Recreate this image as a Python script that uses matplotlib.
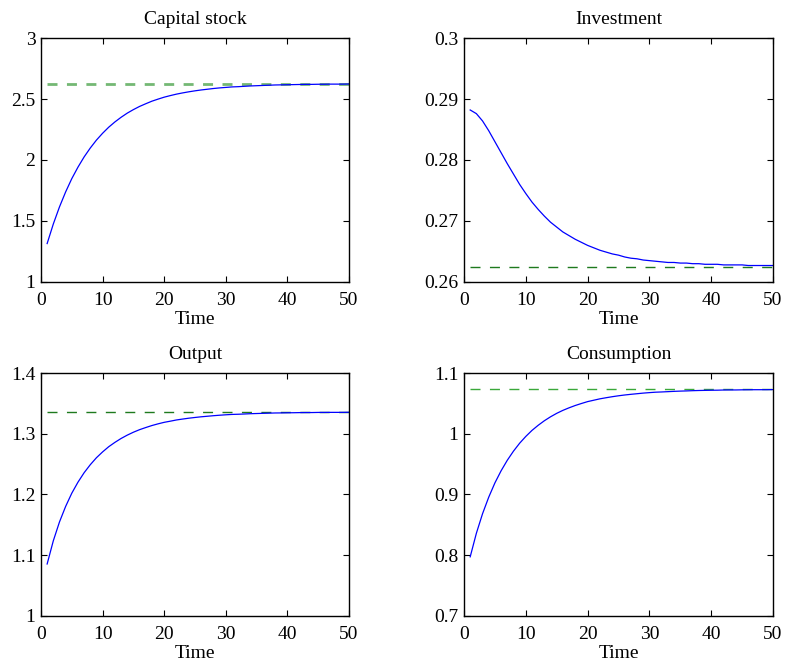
import matplotlib
matplotlib.use("Agg")
import matplotlib.pyplot as plt

plt.rcParams['font.family'] = ['Liberation Serif', 'DejaVu Serif']
plt.rcParams['lines.scale_dashes'] = False

time = list(range(1, 51))

capital = [1.315, 1.475, 1.615, 1.738, 1.847, 1.941, 2.025, 2.098, 2.163, 2.219,
           2.269, 2.312, 2.350, 2.384, 2.413, 2.439, 2.461, 2.482, 2.499, 2.515,
           2.528, 2.540, 2.550, 2.559, 2.567, 2.574, 2.580, 2.586, 2.591, 2.595,
           2.599, 2.601, 2.604, 2.607, 2.609, 2.611, 2.613, 2.615, 2.616, 2.617,
           2.618, 2.619, 2.620, 2.620, 2.621, 2.621, 2.622, 2.622, 2.622, 2.623]
investment = [0.2882, 0.2876, 0.2864, 0.2848, 0.2830, 0.2812, 0.2794, 0.2777, 0.2760, 0.2745,
              0.2731, 0.2719, 0.2708, 0.2698, 0.2690, 0.2682, 0.2676, 0.2670, 0.2665, 0.2660,
              0.2656, 0.2652, 0.2649, 0.2646, 0.2644, 0.2641, 0.2639, 0.2638, 0.2636, 0.2635,
              0.2634, 0.2633, 0.2632, 0.2632, 0.2631, 0.2631, 0.2630, 0.2630, 0.2629, 0.2629,
              0.2629, 0.2628, 0.2628, 0.2628, 0.2628, 0.2627, 0.2627, 0.2627, 0.2627, 0.2627]
output = [1.0856, 1.1237, 1.1547, 1.1803, 1.2021, 1.2202, 1.2358, 1.2490, 1.2605, 1.2701,
          1.2787, 1.2858, 1.2922, 1.2977, 1.3025, 1.3067, 1.3102, 1.3135, 1.3163, 1.3188,
          1.3207, 1.3227, 1.3242, 1.3256, 1.3268, 1.3279, 1.3288, 1.3297, 1.3305, 1.3312,
          1.3318, 1.3321, 1.3325, 1.3330, 1.3333, 1.3336, 1.3339, 1.3342, 1.3343, 1.3345,
          1.3346, 1.3348, 1.3349, 1.3349, 1.3351, 1.3351, 1.3352, 1.3352, 1.3352, 1.3354]
consumption = [0.7974, 0.8362, 0.8684, 0.8956, 0.9191, 0.9390, 0.9563, 0.9713, 0.9844, 0.9956,
               1.0055, 1.0139, 1.0214, 1.0279, 1.0336, 1.0385, 1.0427, 1.0465, 1.0498, 1.0529,
               1.0552, 1.0575, 1.0593, 1.0610, 1.0625, 1.0638, 1.0649, 1.0659, 1.0669, 1.0677,
               1.0684, 1.0688, 1.0693, 1.0698, 1.0702, 1.0705, 1.0709, 1.0712, 1.0714, 1.0716,
               1.0717, 1.0720, 1.0721, 1.0721, 1.0723, 1.0724, 1.0725, 1.0725, 1.0725, 1.0727]

steady = [2.625, 0.2625, 1.3357, 1.0734]
titles = ['Capital stock', 'Investment', 'Output', 'Consumption']
series = [capital, investment, output, consumption]
ylims = [(1, 3), (0.26, 0.30), (1.0, 1.4), (0.7, 1.1)]
yticks = [[1, 1.5, 2, 2.5, 3],
          [0.26, 0.27, 0.28, 0.29, 0.3],
          [1, 1.1, 1.2, 1.3, 1.4],
          [0.7, 0.8, 0.9, 1, 1.1]]
yticklabels = [['1', '1.5', '2', '2.5', '3'],
               ['0.26', '0.27', '0.28', '0.29', '0.3'],
               ['1', '1.1', '1.2', '1.3', '1.4'],
               ['0.7', '0.8', '0.9', '1', '1.1']]
dash_colors = ['#74b874', '#1e7a1e', '#1e7a1e', '#3aa83a']
dash_widths = [2.0, 1.0, 1.0, 1.0]

# axes boxes in figure fractions [left, bottom, width, height]
boxes = [[0.0522, 0.5734, 0.3924, 0.3691],
         [0.5911, 0.5734, 0.3936, 0.3691],
         [0.0522, 0.0681, 0.3924, 0.3676],
         [0.5911, 0.0681, 0.3936, 0.3676]]

fig = plt.figure(figsize=(7.85, 6.61), dpi=100)

for i in range(4):
    ax = fig.add_axes(boxes[i])
    ax.plot([1, 50], [steady[i], steady[i]], color=dash_colors[i],
            linewidth=dash_widths[i], dashes=(7.2, 6.8))
    ax.plot(time, series[i], color='blue', linewidth=0.9)
    ax.set_xlim(0, 50)
    ax.set_ylim(*ylims[i])
    ax.set_xticks([0, 10, 20, 30, 40, 50])
    ax.set_yticks(yticks[i])
    ax.set_yticklabels(yticklabels[i])
    ax.tick_params(direction='in', top=True, right=True, length=4, width=0.8,
                   labelsize=14)
    ax.tick_params(axis='x', pad=7)
    ax.tick_params(axis='y', pad=4)
    for sp in ax.spines.values():
        sp.set_linewidth(1.0)
    ax.set_title(titles[i], fontsize=14, pad=10)
    ax.set_xlabel('Time', fontsize=14, labelpad=2)

fig.savefig('out.png', dpi=100)
